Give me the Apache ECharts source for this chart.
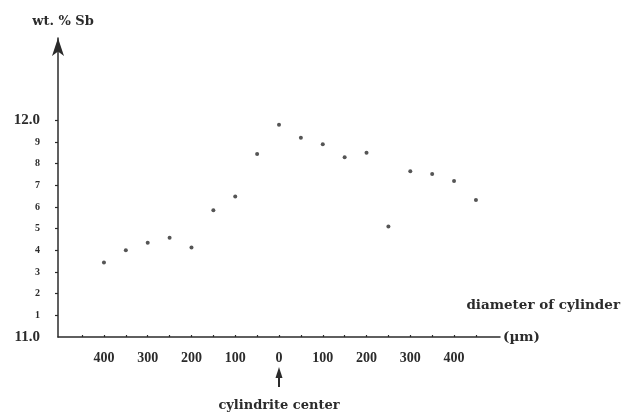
<!DOCTYPE html>
<html>
<head>
<meta charset="utf-8">
<script src="https://cdn.jsdelivr.net/npm/echarts@6/dist/echarts.min.js"></script>
<style>
html,body{margin:0;padding:0;background:#fff;}
#chart{width:623px;height:415px;}
</style>
</head>
<body>
<div id="chart"></div>
<script>
// Data: distance from cylindrite center (µm; negative = left side), wt. % Sb
var xPositions = [-400, -350, -300, -250, -200, -150, -100, -50, 0, 50, 100, 150, 200, 250, 300, 350, 400, 450];
var sbValues   = [11.344, 11.40, 11.435, 11.458, 11.413, 11.585, 11.648, 11.845, 11.98, 11.92, 11.89, 11.83, 11.85, 11.51, 11.765, 11.752, 11.72, 11.632];

// Tick labels
var xLabelValues = [-400, -300, -200, -100, 0, 100, 200, 300, 400];
var xLabelTexts  = ['400', '300', '200', '100', '0', '100', '200', '300', '400'];
var xTickValues  = [-450, -400, -350, -300, -250, -200, -150, -100, -50, 0, 50, 100, 150, 200, 250, 300, 350, 400, 450];
var yTickValues  = [11.0, 11.1, 11.2, 11.3, 11.4, 11.5, 11.6, 11.7, 11.8, 11.9, 12.0];
var yTickLabels  = ['11.0', '1', '2', '3', '4', '5', '6', '7', '8', '9', '12.0'];

var FONT = '"Liberation Serif", "DejaVu Serif", serif';
var WFONT = '"DejaVu Serif", "Liberation Serif", serif';
var INK = '#2b2b2b';

function lookup(vals, texts, v) {
  for (var i = 0; i < vals.length; i++) {
    if (Math.abs(vals[i] - v) < 1e-6) return texts[i];
  }
  return '';
}

var points = xPositions.map(function (x, i) { return [x, sbValues[i]]; });

var chart = echarts.init(document.getElementById('chart'), null, {renderer: 'canvas'});
var option = {
  backgroundColor: '#ffffff',
  animation: false,
  grid: {left: 58, right: 123, top: 38, bottom: 78, containLabel: false},
  title: {
    text: 'diameter of cylinder',
    right: 3,
    top: 298,
    padding: 0,
    textStyle: {fontFamily: WFONT, fontWeight: 'bold', fontSize: 13.5, color: INK}
  },
  xAxis: {
    type: 'value',
    min: -505,
    max: 505,
    name: '(µm)',
    nameLocation: 'end',
    nameGap: 3,
    nameTextStyle: {fontFamily: WFONT, fontWeight: 'bold', fontSize: 13.5, color: INK, verticalAlign: 'middle'},
    splitLine: {show: false},
    axisLine: {show: true, onZero: false, lineStyle: {color: INK, width: 1.5}},
    axisTick: {show: true, inside: true, length: 2, customValues: xTickValues, lineStyle: {color: INK, width: 1.2}},
    axisLabel: {
      show: true,
      customValues: xLabelValues,
      margin: 14,
      fontFamily: FONT, fontWeight: 'bold', fontSize: 14, color: INK,
      formatter: function (v) { return lookup(xLabelValues, xLabelTexts, v); }
    }
  },
  yAxis: {
    type: 'value',
    min: 11.0,
    max: 12.38,
    name: 'wt. % Sb',
    nameLocation: 'end',
    nameGap: 10,
    nameTextStyle: {fontFamily: WFONT, fontWeight: 'bold', fontSize: 13, color: INK, padding: [0, 0, 0, 10]},
    splitLine: {show: false},
    axisLine: {show: true, onZero: false, symbol: ['none', 'arrow'], symbolSize: [9, 18], lineStyle: {color: INK, width: 1.5}},
    axisTick: {show: true, length: 3, customValues: yTickValues.slice(1), lineStyle: {color: INK, width: 1.2}},
    axisLabel: {
      show: true,
      customValues: yTickValues,
      margin: 18,
      color: INK,
      formatter: function (v) {
        var t = lookup(yTickValues, yTickLabels, v);
        return t.length > 1 ? '{big|' + t + '}' : '{small|' + t + '}';
      },
      rich: {
        big: {fontFamily: FONT, fontWeight: 'bold', fontSize: 15, color: INK},
        small: {fontFamily: FONT, fontWeight: 'bold', fontSize: 10, color: INK}
      }
    }
  },
  series: [{
    type: 'scatter',
    data: points,
    symbol: 'circle',
    symbolSize: 4,
    itemStyle: {color: INK},
    silent: true
  }]
};
chart.setOption(option);

// Annotation under the "0" label: arrow and "cylindrite center"
var cx = chart.convertToPixel({xAxisIndex: 0}, 0);
chart.setOption({
  graphic: [
    {
      type: 'polygon',
      shape: {points: [[cx, 367], [cx - 3.5, 378], [cx + 3.5, 378]]},
      style: {fill: INK}
    },
    {
      type: 'line',
      shape: {x1: cx, y1: 376, x2: cx, y2: 387},
      style: {stroke: INK, lineWidth: 2}
    },
    {
      type: 'text',
      x: cx,
      y: 406,
      style: {text: 'cylindrite center', fontFamily: WFONT, fontWeight: 'bold', fontSize: 13, fill: INK, align: 'center', verticalAlign: 'middle'}
    }
  ]
});
</script>
</body>
</html>
